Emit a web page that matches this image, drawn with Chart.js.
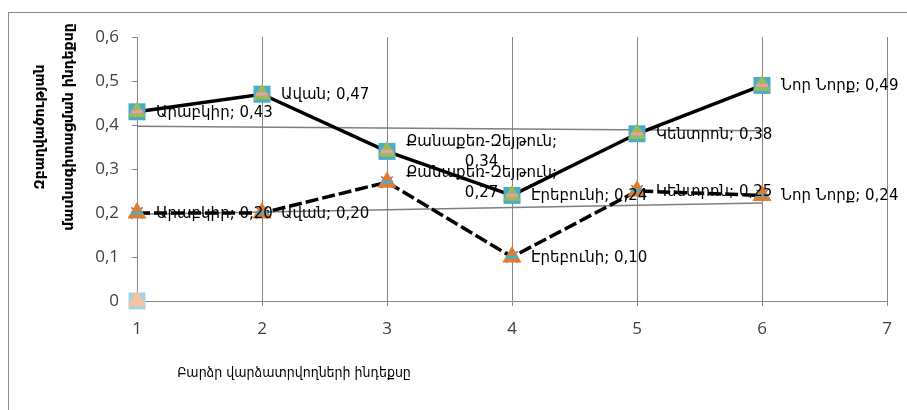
<!DOCTYPE html>
<html>
<head>
<meta charset="utf-8">
<script src="https://cdn.jsdelivr.net/npm/chart.js@4"></script>
<style>
    html, body { margin: 0; padding: 0; background: #fff; }
    #wrap { position: relative; width: 907px; height: 410px; overflow: hidden; }
    #frame { position: absolute; left: 8px; top: 12px; width: 920px; height: 420px; border: 1px solid #8c8c8c; }
    canvas { position: absolute; left: 0; top: 0; }
</style>
</head>
<body>
<div id="wrap">
    <div id="frame"></div>
    <canvas id="chart" width="907" height="410"></canvas>
</div>
<script>
// districts, x = index 1..6
const districts = ['Արաբկիր', 'Ավան', 'Քանաքեռ-Զեյթուն', 'Էրեբունի', 'Կենտրոն', 'Նոր Նորք'];
const xIndex = [1, 2, 3, 4, 5, 6];
const seriesTop = [0.43, 0.47, 0.34, 0.24, 0.38, 0.49];
const seriesBottom = [0.20, 0.20, 0.27, 0.10, 0.25, 0.24];
const originPoint = [{ x: 1, y: 0 }];

// trend lines (x = 1 and x = 6)
const trendX = [1, 6];
const trendTop = [0.397, 0.387];
const trendBottom = [0.197, 0.223];

const yTitle = ['Զբաղվածության', 'մասնագիտացման ինդեքսը'];
const xTitle = 'Բարձր վարձատրվողների ինդեքսը';

const toPts = (xs, ys) => xs.map((x, i) => ({ x: x, y: ys[i] }));

const labelFont = '15px "DejaVu Sans"';

// data labels: "name; value" to the right of each point
const dataLabels = {
    id: 'dataLabels',
    afterDatasetsDraw(chart) {
        const ctx = chart.ctx;
        ctx.save();
        ctx.font = labelFont;
        ctx.fillStyle = '#000';
        ctx.textBaseline = 'middle';
        chart.data.datasets.forEach((ds, di) => {
            if (!ds.labelled) return;
            const meta = chart.getDatasetMeta(di);
            meta.data.forEach((pt, i) => {
                const val = ds.data[i].y.toFixed(2).replace('.', ',');
                const name = districts[i];
                const x0 = pt.x + 19;
                if (name.length > 10) {
                    const l1 = name + ';';
                    const w = ctx.measureText(l1).width;
                    ctx.textAlign = 'center';
                    ctx.fillText(l1, x0 + w / 2, pt.y - 9);
                    ctx.fillText(val, x0 + w / 2, pt.y + 11);
                } else {
                    ctx.textAlign = 'left';
                    ctx.fillText(name + '; ' + val, x0, pt.y + 1);
                }
            });
        });
        ctx.restore();
    }
};

// axis titles
const axisTitles = {
    id: 'axisTitles',
    afterDraw(chart) {
        const ctx = chart.ctx;
        ctx.save();
        ctx.fillStyle = '#000';
        ctx.textAlign = 'center';
        ctx.textBaseline = 'middle';
        ctx.font = 'bold 14px "DejaVu Sans"';
        ctx.save();
        ctx.translate(40, 127);
        ctx.rotate(-Math.PI / 2);
        ctx.fillText(yTitle[0], 0, 0);
        ctx.fillText(yTitle[1], 0, 29);
        ctx.restore();
        ctx.font = '14px "DejaVu Sans Condensed"';
        ctx.fillText(xTitle, 294, 373);
        ctx.restore();
    }
};

const axisGray = '#868686';

new Chart(document.getElementById('chart'), {
    type: 'scatter',
    data: {
        datasets: [
            // series top: pink dash on top, green triangle, teal square under (with line)
            { data: toPts(xIndex, seriesTop), pointStyle: 'line', pointRadius: 6, borderColor: '#e6a0a8', borderWidth: 3, backgroundColor: '#e6a0a8', order: 1, clip: false },
            { data: toPts(xIndex, seriesTop), pointStyle: 'triangle', pointRadius: 10.5, backgroundColor: '#9bbb59', borderColor: '#9bbb59', borderWidth: 0, order: 2, clip: false },
            { data: toPts(xIndex, seriesTop), labelled: true, showLine: true, borderColor: '#000', borderWidth: 3.5, clip: false,
              pointStyle: 'rect', pointRadius: 12, pointBackgroundColor: '#4bacc6', pointBorderColor: '#4bacc6', pointBorderWidth: 0, order: 3 },
            // series bottom: teal dash on top, orange triangle, purple x under, dashed line
            { data: toPts(xIndex, seriesBottom), pointStyle: 'line', pointRadius: 6, borderColor: '#4bacc6', borderWidth: 3, backgroundColor: '#4bacc6', order: 4, clip: false },
            { data: toPts(xIndex, seriesBottom), labelled: true, showLine: true, borderColor: '#000', borderWidth: 3.5, borderDash: [13, 4], clip: false,
              pointStyle: 'triangle', pointRadius: 11, pointBackgroundColor: '#e07b30', pointBorderColor: '#e07b30', pointBorderWidth: 0, order: 5 },
            { data: toPts(xIndex, seriesBottom), pointStyle: 'crossRot', pointRadius: 8, borderColor: '#8064a2', borderWidth: 1.5, order: 6, clip: false },
            // point at origin
            { data: originPoint, pointStyle: 'triangle', pointRadius: 10.5, backgroundColor: '#fbc0a0', borderWidth: 0, order: 7, clip: false },
            { data: originPoint, pointStyle: 'rect', pointRadius: 12, backgroundColor: '#a5d5e2', borderWidth: 0, order: 8, clip: false },
            // trend lines
            { data: toPts(trendX, trendTop), showLine: true, pointRadius: 0, borderColor: '#7f7f7f', borderWidth: 1.5, order: 9 },
            { data: toPts(trendX, trendBottom), showLine: true, pointRadius: 0, borderColor: '#7f7f7f', borderWidth: 1.5, order: 10 }
        ]
    },
    options: {
        responsive: false,
        animation: false,
        layout: { padding: { left: 0, top: 37, right: 20, bottom: 0 } },
        plugins: { legend: { display: false }, tooltip: { enabled: false } },
        scales: {
            x: {
                type: 'linear', min: 1, max: 7,
                afterFit(scale) { scale.height = 109; },
                ticks: { stepSize: 1, padding: 13, color: '#404040', font: { family: '"Open Sans"', size: 17 } },
                grid: { color: axisGray, lineWidth: 1, tickLength: 5 },
                border: { color: axisGray, width: 1 }
            },
            y: {
                min: 0, max: 0.6,
                afterFit(scale) { scale.width = 137; },
                ticks: {
                    stepSize: 0.1, padding: 13, color: '#404040', font: { family: '"Open Sans"', size: 17 },
                    callback: v => (Math.round(v * 10) / 10).toString().replace('.', ',')
                },
                grid: { drawOnChartArea: false, color: axisGray, tickLength: 5 },
                border: { color: axisGray, width: 1 }
            }
        }
    },
    plugins: [dataLabels, axisTitles]
});
</script>
</body>
</html>
